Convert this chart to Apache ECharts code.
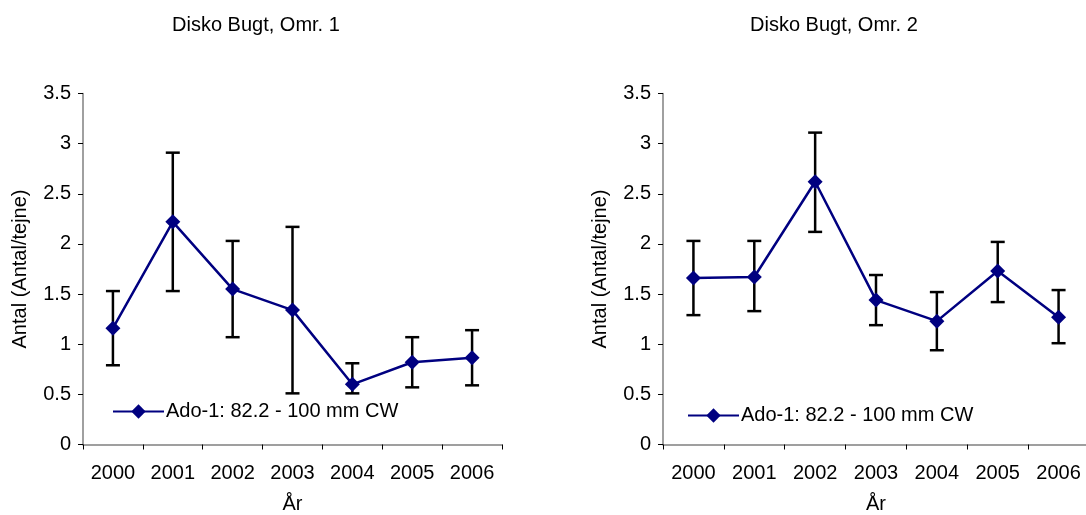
<!DOCTYPE html>
<html>
<head>
<meta charset="utf-8">
<script src="https://cdn.jsdelivr.net/npm/echarts@6/dist/echarts.min.js"></script>
<style>
html,body{margin:0;padding:0;background:#fff;}
#c{width:1086px;height:515px;}
</style>
</head>
<body>
<div id="c"></div>
<script>
const years = ['2000', '2001', '2002', '2003', '2004', '2005', '2006'];
const yTicks = [0, 0.5, 1, 1.5, 2, 2.5, 3, 3.5];
const seriesName = 'Ado-1: 82.2 - 100 mm CW';
const title1 = 'Disko Bugt, Omr. 1';
const title2 = 'Disko Bugt, Omr. 2';

const omr1Mean = [1.16, 2.22, 1.55, 1.34, 0.60, 0.82, 0.865];
const omr1Low  = [0.79, 1.53, 1.07, 0.51, 0.51, 0.57, 0.59];
const omr1High = [1.53, 2.91, 2.03, 2.17, 0.81, 1.07, 1.14];

const omr2Mean = [1.66, 1.67, 2.62, 1.44, 1.23, 1.73, 1.27];
const omr2Low  = [1.29, 1.33, 2.12, 1.19, 0.94, 1.42, 1.01];
const omr2High = [2.03, 2.03, 3.11, 1.69, 1.52, 2.02, 1.54];

const FONT = '"Liberation Sans", Arial, sans-serif';
const NAVY = '#000080';
const FS = 20;

function renderErr(params, api) {
  const x = api.value(0);
  const lo = api.coord([x, api.value(1)]);
  const hi = api.coord([x, api.value(2)]);
  const w = 7;
  const st = { stroke: '#000', lineWidth: 2.5 };
  return {
    type: 'group',
    children: [
      { type: 'line', shape: { x1: lo[0], y1: lo[1], x2: hi[0], y2: hi[1] }, style: st },
      { type: 'line', shape: { x1: hi[0] - w, y1: hi[1], x2: hi[0] + w, y2: hi[1] }, style: st },
      { type: 'line', shape: { x1: lo[0] - w, y1: lo[1], x2: lo[0] + w, y2: lo[1] }, style: st }
    ]
  };
}

function xAxis(gi) {
  return {
    type: 'category', gridIndex: gi, data: years, boundaryGap: true,
    name: 'År', nameLocation: 'middle', nameGap: 50,
    nameTextStyle: { fontFamily: FONT, fontSize: FS, color: '#000' },
    axisLine: { lineStyle: { color: '#808080', width: 1.5 } },
    axisTick: { show: true, length: 5, alignWithLabel: false, lineStyle: { color: '#000' } },
    axisLabel: { fontFamily: FONT, fontSize: FS, color: '#000', margin: 19 },
    splitLine: { show: false }
  };
}
function yAxis(gi) {
  return {
    type: 'value', gridIndex: gi, min: yTicks[0], max: yTicks[yTicks.length - 1], interval: 0.5,
    name: 'Antal (Antal/tejne)', nameLocation: 'middle', nameGap: 53,
    nameTextStyle: { fontFamily: FONT, fontSize: FS, color: '#000' },
    axisLine: { show: true, lineStyle: { color: '#808080', width: 1.5 } },
    axisTick: { show: true, length: 5, lineStyle: { color: '#000' } },
    axisLabel: { fontFamily: FONT, fontSize: FS, color: '#000', margin: 12 },
    splitLine: { show: false }
  };
}

const chart = echarts.init(document.getElementById('c'), null, { renderer: 'canvas' });
chart.setOption({
  animation: false,
  backgroundColor: '#fff',
  title: [
    { text: title1, left: 172, top: 15, padding: 0, textStyle: { fontFamily: FONT, fontSize: FS, fontWeight: 'normal', color: '#000' } },
    { text: title2, left: 750, top: 15, padding: 0, textStyle: { fontFamily: FONT, fontSize: FS, fontWeight: 'normal', color: '#000' } }
  ],
  grid: [
    { left: 83, right: 584, top: 93.5, bottom: 70.5, containLabel: false, outerBoundsMode: 'none' },
    { left: 663, right: -3, top: 93.5, bottom: 70.5, containLabel: false, outerBoundsMode: 'none' }
  ],
  xAxis: [xAxis(0), xAxis(1)],
  yAxis: [yAxis(0), yAxis(1)],
  legend: [
    { data: [seriesName], left: 112, top: 401.5, padding: 0, itemWidth: 51, itemHeight: 18, itemGap: 0,
      textStyle: { fontFamily: FONT, fontSize: FS, color: '#000', padding: [0, 0, 0, -3] }, selectedMode: false },
    { data: [seriesName], left: 687, top: 405.5, padding: 0, itemWidth: 51, itemHeight: 18, itemGap: 0,
      textStyle: { fontFamily: FONT, fontSize: FS, color: '#000', padding: [0, 0, 0, -3] }, selectedMode: false }
  ],
  series: [
    { type: 'custom', name: 'err1', xAxisIndex: 0, yAxisIndex: 0, renderItem: renderErr,
      data: years.map((y, i) => [i, omr1Low[i], omr1High[i]]), encode: { x: 0, y: [1, 2] }, z: 2, silent: true },
    { type: 'line', name: seriesName, xAxisIndex: 0, yAxisIndex: 0, data: omr1Mean,
      symbol: 'diamond', symbolSize: 15, itemStyle: { color: NAVY }, lineStyle: { color: NAVY, width: 2.5 }, z: 3 },
    { type: 'custom', name: 'err2', xAxisIndex: 1, yAxisIndex: 1, renderItem: renderErr,
      data: years.map((y, i) => [i, omr2Low[i], omr2High[i]]), encode: { x: 0, y: [1, 2] }, z: 2, silent: true },
    { type: 'line', name: seriesName, xAxisIndex: 1, yAxisIndex: 1, data: omr2Mean,
      symbol: 'diamond', symbolSize: 15, itemStyle: { color: NAVY }, lineStyle: { color: NAVY, width: 2.5 }, z: 3 }
  ]
});
</script>
</body>
</html>
